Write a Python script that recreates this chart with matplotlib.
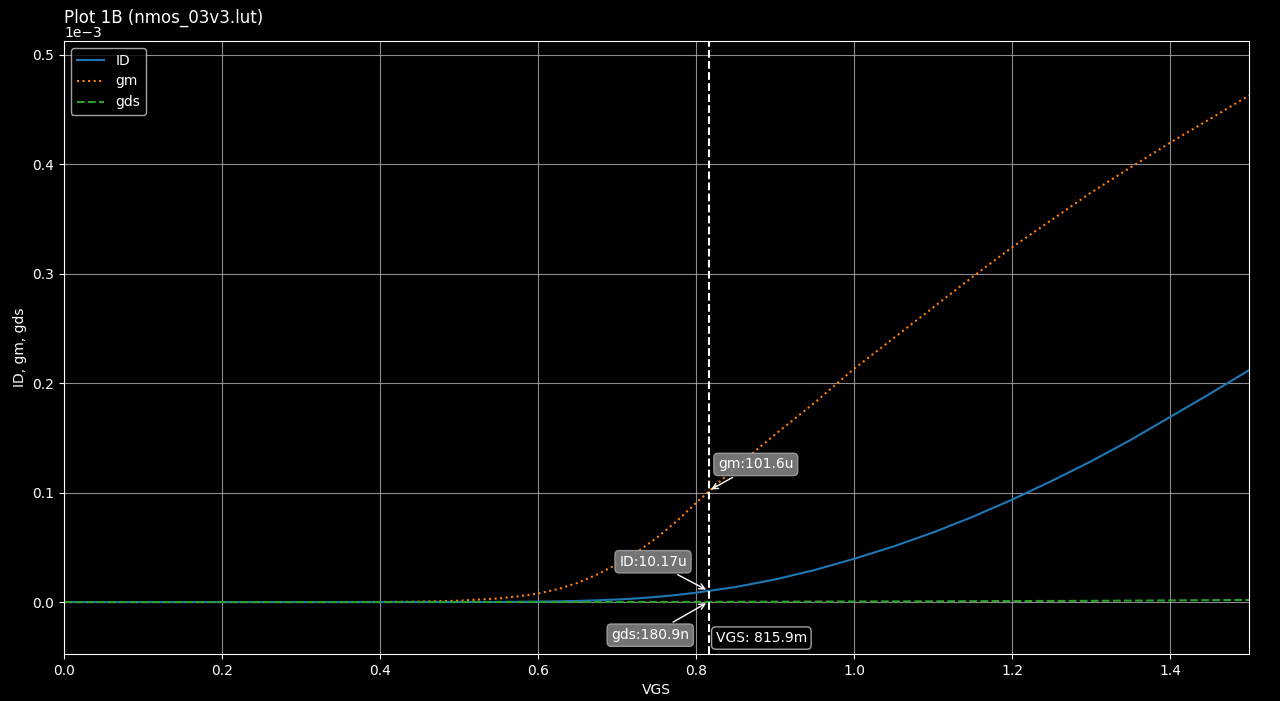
import matplotlib.pyplot as plt

plt.style.use("dark_background")

# VGS sweep (V)
vgs = [0.00, 0.05, 0.10, 0.15, 0.20, 0.25, 0.30, 0.35, 0.40, 0.45,
       0.50, 0.55, 0.575, 0.60, 0.625, 0.65, 0.675, 0.70, 0.725, 0.75, 0.775, 0.80,
       0.85, 0.90, 0.95, 1.00, 1.05, 1.10, 1.15, 1.20, 1.25, 1.30, 1.35, 1.40, 1.45, 1.50]

# values, in units of 1e-3 (mA, mS)
id_m = [0, 0, 0, 0, 0, 0, 0, 0, 0, 0.00002,
        0.00005, 0.00013, 0.00024, 0.0004, 0.00065, 0.0010, 0.0016, 0.0023, 0.0033, 0.0047, 0.0064, 0.0085,
        0.0137, 0.0206, 0.0292, 0.0395, 0.0508, 0.0635, 0.0778, 0.0935, 0.1105, 0.1285, 0.1480, 0.1690, 0.1900, 0.2118]
gm_m = [0, 0, 0, 0, 0, 0, 0, 0, 0.0001, 0.0004,
        0.0012, 0.0033, 0.0052, 0.0078, 0.0118, 0.0175, 0.0252, 0.0345, 0.0455, 0.0585, 0.0735, 0.0905,
        0.123, 0.153, 0.182, 0.213, 0.241, 0.269, 0.297, 0.324, 0.349, 0.374, 0.397, 0.4196, 0.441, 0.4628]
gds_m = [0, 0, 0, 0, 0, 0, 0, 0, 0, 0,
         0, 0.00001, 0.00002, 0.00003, 0.00004, 0.00006, 0.00007, 0.00009, 0.0001, 0.00012, 0.00014, 0.00017,
         0.00025, 0.00033, 0.00042, 0.0005, 0.0006, 0.0007, 0.0008, 0.0009, 0.0010, 0.0011, 0.0013, 0.0015, 0.0017, 0.0019]

# cursor readout
vgs_cur = 0.8159
id_cur = 10.17e-6
gm_cur = 101.6e-6
gds_cur = 180.9e-9

fig = plt.figure(figsize=(12.8, 7.01), dpi=100)
ax = fig.add_axes([0.05, 0.067, 0.9258, 0.8745])

ax.plot(vgs, [v * 1e-3 for v in id_m], "-", color="#1f77b4", label="ID")
ax.plot(vgs, [v * 1e-3 for v in gm_m], ":", color="#ff7f0e", label="gm")
ax.plot(vgs, [v * 1e-3 for v in gds_m], "--", color="#2ca02c", label="gds")

ax.set_xlim(0, 1.5)
ax.set_ylim(-0.0475e-3, 0.5125e-3)
ax.ticklabel_format(axis="y", style="sci", scilimits=(-3, -3))
ax.grid(True, color="#b0b0b0", alpha=0.8)
ax.axvline(vgs_cur, color="white", ls="--", lw=1.5)

box = dict(boxstyle="round", fc="gray", ec="#a0a0a0", alpha=0.9)
arr = dict(arrowstyle="->", color="white")
ax.annotate("gm:101.6u", xy=(vgs_cur, gm_cur), xytext=(34, 19), textcoords="offset points",
            ha="center", va="center", bbox=box, arrowprops=arr, color="white")
ax.annotate("ID:10.17u", xy=(vgs_cur, id_cur), xytext=(-40, 21), textcoords="offset points",
            ha="center", va="center", bbox=box, arrowprops=arr, color="white")
ax.annotate("gds:180.9n", xy=(vgs_cur, gds_cur), xytext=(-42, -24), textcoords="offset points",
            ha="center", va="center", bbox=box, arrowprops=arr, color="white")
ax.annotate("VGS: 815.9m", xy=(vgs_cur, 0), xycoords=("data", "axes fraction"),
            xytext=(38, 11.5), textcoords="offset points", ha="center", va="center",
            bbox=dict(boxstyle="round", fc="black", ec="#a0a0a0"), color="white")

ax.set_title("Plot 1B (nmos_03v3.lut)", loc="left", y=1.0, pad=13)
ax.set_xlabel("VGS")
ax.set_ylabel("ID, gm, gds")
ax.legend(loc="upper left")

fig.savefig("out.png")
